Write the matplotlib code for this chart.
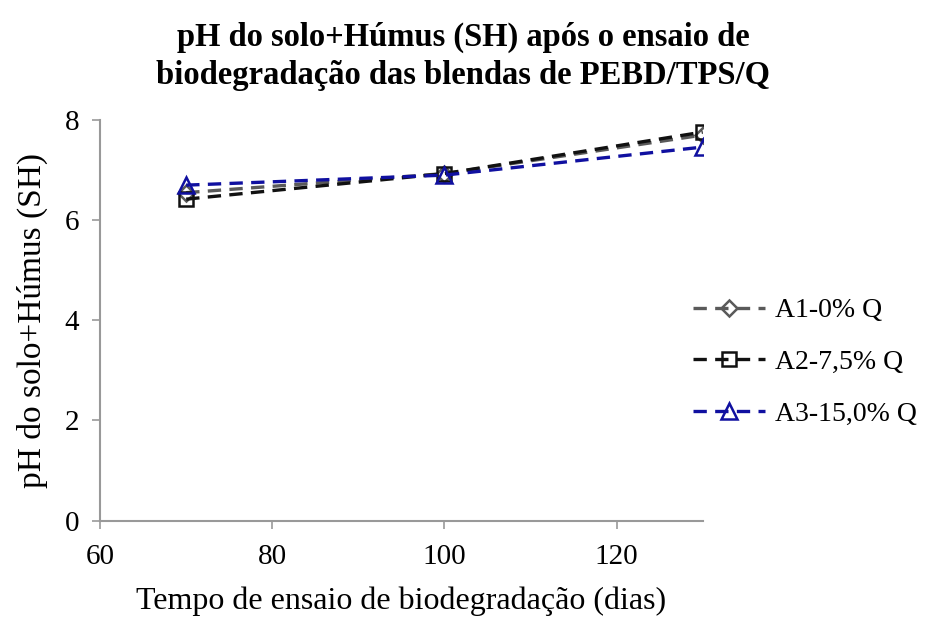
import matplotlib
matplotlib.use('Agg')
import matplotlib.pyplot as plt

# Data
dias = [70, 100, 130]
a1_ph = [6.55, 6.93, 7.70]
a2_ph = [6.42, 6.93, 7.76]
a3_ph = [6.70, 6.90, 7.46]

series = [
    ('A1-0% Q', a1_ph, '#5a5a5a', 'D', 8),
    ('A2-7,5% Q', a2_ph, '#111111', 's', 10),
    ('A3-15,0% Q', a3_ph, '#1010a0', '^', 12),
]

plt.rcParams['font.family'] = ['Liberation Serif', 'DejaVu Serif']

fig = plt.figure(figsize=(9.27, 6.22), dpi=100)
ax = fig.add_axes([0.108, 0.163, 0.650, 0.644])

for label, vals, color, marker, ms in series:
    ax.plot(dias, vals, linestyle=(0, (4, 2.5)), color=color, linewidth=2.4,
            marker=marker, markersize=ms, markerfacecolor='none',
            markeredgecolor=color, markeredgewidth=1.8, label=label)

ax.set_xlim(60, 130)
ax.set_ylim(0, 8)
ax.set_xticks([60, 80, 100, 120])
ax.set_yticks([0, 2, 4, 6, 8])

for side in ['top', 'right']:
    ax.spines[side].set_visible(False)
for side in ['left', 'bottom']:
    ax.spines[side].set_color('#999999')
    ax.spines[side].set_linewidth(1.5)
ax.tick_params(axis='both', direction='out', length=6, width=1.2,
               color='#999999', labelsize=21)
ax.tick_params(axis='x', pad=11)
ax.tick_params(axis='y', pad=9)

ax.set_xlabel('Tempo de ensaio de biodegradação (dias)', fontsize=23, labelpad=12)
ax.set_ylabel('pH do solo+Húmus (SH)', fontsize=24, labelpad=12)

fig.text(0.5, 0.965, 'pH do solo+Húmus (SH) após o ensaio de\nbiodegradação das blendas de PEBD/TPS/Q',
         ha='center', va='top', fontsize=23.5, fontweight='bold', linespacing=1.3)

leg = ax.legend(loc='center left', bbox_to_anchor=(1.0, 0.395), frameon=False,
                fontsize=20, handlelength=2.6, labelspacing=0.95, handletextpad=0.35,
                borderaxespad=-0.75)

fig.savefig('out.png', dpi=100, facecolor='white')
